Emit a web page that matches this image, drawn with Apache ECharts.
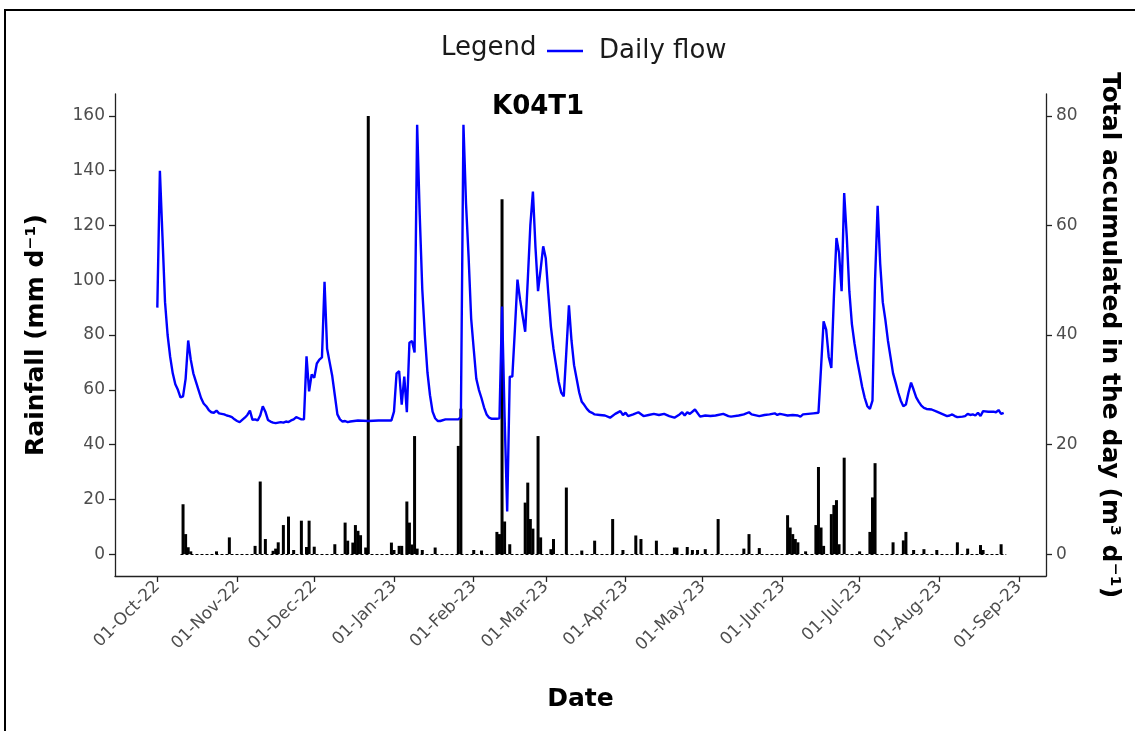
<!DOCTYPE html>
<html>
<head>
<meta charset="utf-8">
<script src="https://cdn.jsdelivr.net/npm/echarts@6/dist/echarts.min.js"></script>
<style>
  html, body { margin: 0; padding: 0; background: #fff; }
  #chart { width: 1135px; height: 731px; }
  #frame { position: absolute; left: 4px; top: 9px; right: 0; bottom: 0;
           border-top: 2px solid #000; border-left: 2px solid #000; pointer-events: none; }
</style>
</head>
<body>
<div id="chart"></div>
<div id="frame"></div>
<script>
// x positions are days counted from 01-Oct-2022
const monthDays = [0, 31, 61, 92, 123, 151, 182, 212, 243, 273, 304, 335];
const monthLabels = ['01-Oct-22', '01-Nov-22', '01-Dec-22', '01-Jan-23', '01-Feb-23', '01-Mar-23',
  '01-Apr-23', '01-May-23', '01-Jun-23', '01-Jul-23', '01-Aug-23', '01-Sep-23'];
const rainTicks = [0, 20, 40, 60, 80, 100, 120, 140, 160];
const flowTicks = [0, 20, 40, 60, 80];

// rainfall record span (zero days drawn as the dotted base)
const rainSpan = [9, 330];

// daily rainfall, [day, mm]
const rainfall = [
  [10, 18.2], [11, 7.3], [12, 2.5], [13, 1], [23, 1], [28, 6.1], [38, 3], [40, 26.5], [42, 5.5],
  [45, 1.2], [46, 2], [47, 4.3], [49, 10.6], [51, 13.7], [53, 1.5], [56, 12.2], [58, 2.6],
  [59, 12.2], [61, 2.7], [69, 3.6], [73, 11.5], [74, 4.9], [76, 4.2], [77, 10.6], [78, 8.5],
  [79, 6.9], [81, 2.4], [82, 160], [91, 4.2], [92, 1.5], [94, 3], [95, 3], [97, 19.2], [98, 11.5],
  [99, 3.5], [100, 43.1], [101, 2], [103, 1.5], [108, 2.4], [117, 39.5], [118, 53.1], [123, 1.5],
  [126, 1.3], [132, 8.1], [133, 7.3], [134, 129.6], [135, 11.9], [137, 3.6], [143, 18.8],
  [144, 26.1], [145, 12.8], [146, 9.3], [148, 43.1], [149, 6.1], [153, 1.8], [154, 5.5],
  [159, 24.3], [165, 1.3], [170, 4.9], [177, 12.8], [181, 1.5], [186, 6.8], [188, 5.5], [194, 4.9],
  [201, 2.4], [202, 2.4], [206, 2.6], [208, 1.5], [210, 1.5], [213, 1.8], [218, 12.8], [228, 2],
  [230, 7.3], [234, 2.2], [245, 14.2], [246, 9.7], [247, 7.3], [248, 5.5], [249, 4.3], [252, 1],
  [256, 10.6], [257, 31.8], [258, 9.7], [259, 3], [262, 14.6], [263, 17.9], [264, 19.7], [265, 3.6],
  [267, 35.2], [273, 1], [277, 8.1], [278, 20.7], [279, 33.2], [286, 4.3], [290, 5], [291, 8.1],
  [294, 1.5], [298, 1.8], [303, 1.5], [311, 4.3], [315, 2], [320, 3.3], [321, 1.5], [328, 3.6]
];

// daily flow, [day, m3]
const dailyFlow = [
  [0, 45], [1, 70], [2, 58], [3, 46], [4, 40], [5, 36], [6, 33], [7, 31], [8, 30], [9, 28.6],
  [10, 28.8], [11, 32], [12, 39], [13, 35.5], [14, 33], [15, 31.5], [16, 30], [17, 28.5], [18, 27.5],
  [19, 27], [20, 26.3], [21, 25.9], [22, 25.8], [23, 26.2], [24, 25.7], [25, 25.6], [26, 25.5],
  [27, 25.3], [28, 25.2], [29, 25], [30, 24.6], [31, 24.3], [32, 24.1], [33, 24.5], [34, 24.9],
  [35, 25.4], [36, 26.2], [37, 24.5], [38, 24.6], [39, 24.4], [40, 25.3], [41, 27], [42, 26],
  [43, 24.5], [44, 24.2], [45, 24], [46, 23.9], [47, 24], [48, 24.1], [49, 24], [50, 24.2],
  [51, 24.1], [52, 24.4], [53, 24.6], [54, 25], [55, 24.8], [56, 24.6], [57, 24.6], [58, 36.1],
  [59, 29.7], [60, 32.8], [61, 32.2], [62, 34.8], [63, 35.5], [64, 35.9], [65, 49.7], [66, 37.5],
  [67, 35], [68, 32.5], [69, 29], [70, 25.5], [71, 24.6], [72, 24.2], [73, 24.3], [74, 24.1],
  [75, 24.2], [78, 24.4], [82, 24.3], [86, 24.4], [91, 24.4], [92, 26], [93, 33], [94, 33.4],
  [95, 27.3], [96, 32.4], [97, 25.9], [98, 38.6], [99, 38.9], [100, 36.8], [101, 78.4], [102, 62],
  [103, 48.3], [104, 40], [105, 33.2], [106, 29], [107, 26], [108, 24.8], [109, 24.3], [110, 24.3],
  [112, 24.6], [114, 24.6], [117, 24.6], [118, 25], [119, 78.4], [120, 64], [121, 54.3], [122, 43],
  [123, 37.4], [124, 32], [125, 30], [126, 28.5], [127, 26.8], [128, 25.5], [129, 24.9], [130, 24.7],
  [131, 24.7], [132, 24.7], [133, 24.8], [134, 45.2], [135, 25], [136, 7.8], [137, 32.4], [138, 32.4],
  [139, 41], [140, 50.1], [141, 46.5], [142, 43.5], [143, 40.6], [144, 50], [145, 60], [146, 66.2],
  [147, 56], [148, 48], [149, 52], [150, 56.2], [151, 54], [152, 47.5], [153, 41.5], [154, 37.5],
  [155, 34.5], [156, 31.5], [157, 29.5], [158, 28.8], [159, 37], [160, 45.4], [161, 39], [162, 34.5],
  [163, 32], [164, 29.5], [165, 27.8], [166, 27.2], [167, 26.5], [168, 26], [169, 25.8], [170, 25.5],
  [172, 25.4], [174, 25.3], [176, 24.9], [178, 25.6], [180, 26.1], [181, 25.4], [182, 25.8],
  [183, 25.2], [185, 25.5], [187, 25.9], [189, 25.2], [191, 25.4], [193, 25.6], [195, 25.4],
  [197, 25.6], [199, 25.2], [201, 24.9], [203, 25.5], [204, 25.9], [205, 25.3], [206, 25.9],
  [207, 25.6], [209, 26.4], [211, 25.1], [213, 25.3], [215, 25.2], [217, 25.3], [220, 25.6],
  [222, 25.2], [223, 25.1], [226, 25.3], [228, 25.5], [230, 25.9], [231, 25.5], [234, 25.2],
  [236, 25.4], [238, 25.5], [240, 25.7], [241, 25.4], [242, 25.6], [243, 25.5], [245, 25.3],
  [247, 25.4], [249, 25.3], [250, 25.1], [251, 25.5], [253, 25.6], [255, 25.7], [257, 25.8],
  [258, 34], [259, 42.5], [260, 41], [261, 36], [262, 34], [263, 47], [264, 57.7], [265, 55],
  [266, 48], [267, 65.9], [268, 58], [269, 48], [270, 42], [271, 38.5], [272, 35.5], [273, 33],
  [274, 30.5], [275, 28.5], [276, 27], [277, 26.5], [278, 28], [279, 50], [280, 63.6], [281, 53],
  [282, 46], [283, 42.8], [284, 39], [285, 36], [286, 33], [287, 31.3], [288, 29.5], [289, 28],
  [290, 27], [291, 27.3], [292, 29.5], [293, 31.3], [294, 30], [295, 28.6], [296, 27.8], [297, 27.1],
  [298, 26.7], [299, 26.5], [301, 26.4], [303, 26], [305, 25.6], [307, 25.2], [308, 25.3], [309, 25.5],
  [310, 25.2], [311, 25], [313, 25.1], [314, 25.2], [315, 25.6], [316, 25.4], [317, 25.5], [318, 25.3],
  [319, 25.8], [320, 25.2], [321, 26.1], [323, 26], [325, 26], [326, 25.9], [327, 26.3], [328, 25.6],
  [329, 25.8]
];

const FONT = 'DejaVu Sans';
const axisColor = '#222';
const tickText = { color: '#4d4d4d', fontSize: 17, fontFamily: FONT };
const titleText = { color: '#000', fontSize: 25, fontWeight: 'bold', fontFamily: FONT };

const myChart = echarts.init(document.getElementById('chart'), null, { renderer: 'canvas' });

myChart.setOption({
  animation: false,
  backgroundColor: '#fff',
  title: [
    { text: 'Legend', left: 436, top: 30, textStyle: { fontSize: 26, fontWeight: 'normal', color: '#1a1a1a', fontFamily: FONT } },
    { text: 'K04T1', left: 487, top: 89, textStyle: { fontSize: 26, fontWeight: 'bold', color: '#000', fontFamily: FONT } }
  ],
  legend: {
    data: ['Daily flow'],
    left: 542,
    top: 33,
    icon: 'rect',
    itemWidth: 36,
    itemHeight: 2.5,
    selectedMode: false,
    textStyle: { fontSize: 26, color: '#1a1a1a', fontFamily: FONT, padding: [0, 0, 0, 11] }
  },
  grid: { left: 115, right: 89, top: 94, bottom: 155, containLabel: false },
  xAxis: {
    type: 'value',
    min: -16.45,
    max: 345.45,
    name: 'Date',
    nameLocation: 'middle',
    nameGap: 111,
    nameTextStyle: titleText,
    splitLine: { show: false },
    axisLine: { show: true, onZero: false, lineStyle: { color: axisColor, width: 1.3 } },
    axisTick: { show: true, customValues: monthDays, length: 6, lineStyle: { color: axisColor, width: 1.3 } },
    axisLabel: {
      customValues: monthDays,
      rotate: 45,
      margin: 8,
      ...tickText,
      formatter: (v) => monthLabels[monthDays.indexOf(v)] || ''
    }
  },
  yAxis: [
    {
      type: 'value',
      position: 'left',
      min: -8,
      max: 168,
      name: 'Rainfall (mm d⁻¹)',
      nameLocation: 'middle',
      nameRotate: 90,
      nameGap: 66,
      nameTextStyle: titleText,
      splitLine: { show: false },
      axisLine: { show: true, onZero: false, lineStyle: { color: axisColor, width: 1.3 } },
      axisTick: { show: true, customValues: rainTicks, length: 6, lineStyle: { color: axisColor, width: 1.3 } },
      axisLabel: { customValues: rainTicks, margin: 10, ...tickText }
    },
    {
      type: 'value',
      position: 'right',
      min: -4,
      max: 84,
      name: 'Total accumulated in the day (m³ d⁻¹)',
      nameLocation: 'middle',
      nameRotate: -90,
      nameGap: 51,
      nameTextStyle: titleText,
      splitLine: { show: false },
      axisLine: { show: true, onZero: false, lineStyle: { color: axisColor, width: 1.3 } },
      axisTick: { show: true, customValues: flowTicks, length: 6, lineStyle: { color: axisColor, width: 1.3 } },
      axisLabel: { customValues: flowTicks, margin: 10, ...tickText }
    }
  ],
  series: [
    {
      name: 'Rainfall',
      type: 'bar',
      yAxisIndex: 0,
      barWidth: 3,
      itemStyle: { color: '#000' },
      data: rainfall,
      markLine: {
        silent: true,
        symbol: 'none',
        label: { show: false },
        lineStyle: { color: '#000', width: 1, type: [3, 2] },
        data: [[{ coord: [rainSpan[0], 0] }, { coord: [rainSpan[1], 0] }]]
      }
    },
    {
      name: 'Daily flow',
      type: 'line',
      yAxisIndex: 1,
      showSymbol: false,
      symbol: 'none',
      data: dailyFlow,
      itemStyle: { color: '#0000ff' },
      lineStyle: { color: '#0000ff', width: 2.4 },
      z: 3
    }
  ]
});

window.addEventListener('resize', () => { myChart.resize(); });
</script>
</body>
</html>
